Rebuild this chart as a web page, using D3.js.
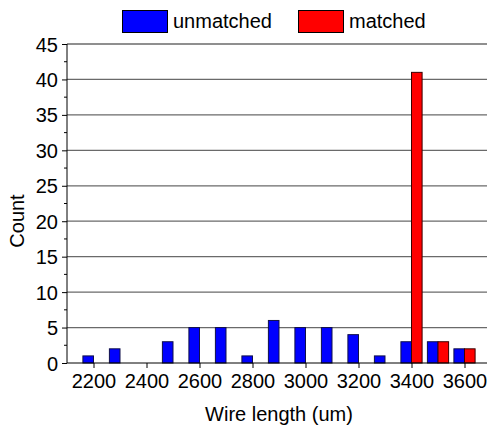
<!DOCTYPE html>
<html>
<head>
<meta charset="utf-8">
<script src="https://cdn.jsdelivr.net/npm/d3@7"></script>
<style>
html,body{margin:0;padding:0;background:#fff;}
svg{display:block;}
text{font-family:"Liberation Sans",Arial,sans-serif;fill:#000;}
</style>
</head>
<body>
<svg id="chart" width="487" height="426"></svg>
<script>
const bins = [2200,2300,2400,2500,2600,2700,2800,2900,3000,3100,3200,3300,3400,3500,3600];
const unmatched = [1,2,0,3,5,5,1,6,5,5,4,1,3,3,2];
const matched   = [0,0,0,0,0,0,0,0,0,0,0,0,41,3,2];
const seriesNames = ["unmatched","matched"];
const seriesColors = ["#0000ff","#ff0000"];
const xTicks = [2200,2400,2600,2800,3000,3200,3400,3600];
const yTicks = [0,5,10,15,20,25,30,35,40,45];
const yMinor = [2.5,7.5,12.5,17.5,22.5,27.5,32.5,37.5,42.5];
const xTitle = "Wire length (um)";
const yTitle = "Count";

const svg = d3.select("#chart");
const x = d3.scaleLinear().domain([2100,3700]).range([67,491]);
const y = d3.scaleLinear().domain([0,45]).range([363,44]);
const binW = 40;

// gridlines
svg.append("g").selectAll("line").data(yTicks.filter(d=>d>0)).join("line")
  .attr("x1",67).attr("x2",491)
  .attr("y1",d=>y(d)).attr("y2",d=>y(d))
  .attr("stroke","#6a6a6a").attr("stroke-width",1.3);

// bars
const series = [unmatched, matched];
series.forEach((vals,si)=>{
  svg.append("g").selectAll("rect").data(bins.map((b,i)=>({b,v:vals[i]})).filter(d=>d.v>0)).join("rect")
    .attr("x",d=> si===0 ? x(d.b-binW) : x(d.b))
    .attr("width",d=> x(d.b)-x(d.b-binW))
    .attr("y",d=>y(d.v))
    .attr("height",d=>y(0)-y(d.v))
    .attr("fill",seriesColors[si])
    .attr("stroke", si===0 ? "#10104a" : "#3a0000")
    .attr("stroke-width",1);
});

// y axis
const yAxis = d3.axisLeft(y).tickValues(yTicks).tickSize(5).tickPadding(4).tickFormat(d3.format("d"));
const gy = svg.append("g").attr("transform","translate(67,0)").call(yAxis);
gy.selectAll("text").style("font-size","20px").attr("dy","0.35em");
gy.select(".domain").attr("d","M0,"+y(45)+"V"+y(0));
gy.append("g").selectAll("line").data(yMinor).join("line")
  .attr("x1",-3).attr("x2",0).attr("y1",d=>y(d)).attr("y2",d=>y(d)).attr("stroke","#000");

// x axis
const xAxis = d3.axisBottom(x).tickValues(xTicks).tickSize(5).tickPadding(6).tickFormat(d3.format("d"));
const gx = svg.append("g").attr("transform","translate(0,363)").call(xAxis);
gx.selectAll("text").style("font-size","20px");
gx.select(".domain").attr("d","M67,0H491");

// titles
svg.append("text").attr("x",279).attr("y",421).attr("text-anchor","middle")
  .style("font-size","20px").text(xTitle);
svg.append("text").attr("transform","translate(24,221) rotate(-90)").attr("text-anchor","middle")
  .style("font-size","20px").text(yTitle);

// legend
const legX = [122,298];
seriesNames.forEach((n,i)=>{
  svg.append("rect").attr("x",legX[i]+0.5).attr("y",10.5).attr("width",45).attr("height",22)
    .attr("fill",seriesColors[i]).attr("stroke","#000").attr("stroke-width",1);
  svg.append("text").attr("x",legX[i]+51).attr("y",28).style("font-size","20px").text(n);
});
</script>
</body>
</html>
